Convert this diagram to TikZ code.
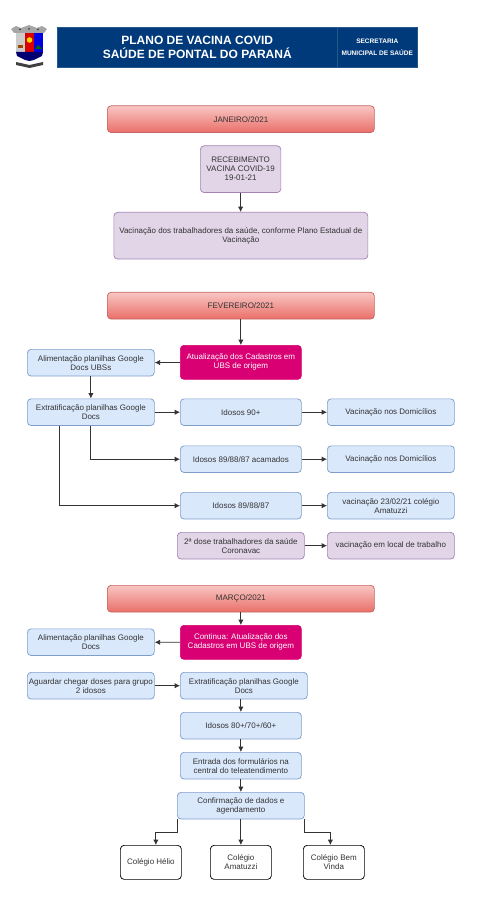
\documentclass[tikz,border=0pt]{standalone}
\usepackage{fontspec}
\setmainfont{Liberation Sans}
\usetikzlibrary{arrows.meta,calc}
\definecolor{bluefill}{HTML}{DAE8FC}
\definecolor{blueline}{HTML}{7F9FCB}
\definecolor{purplefill}{HTML}{E1D5E7}
\definecolor{purpleline}{HTML}{A583B6}
\definecolor{pinkfill}{HTML}{D80073}
\definecolor{headblue}{HTML}{003A7A}
\definecolor{monthtop}{HTML}{F8C6C3}
\definecolor{monthbot}{HTML}{EA6F69}
\definecolor{monthline}{HTML}{C46460}
\definecolor{txt}{HTML}{333333}
\tikzset{
 every node/.style={font=\fontsize{6}{6.75}\selectfont,text=txt,align=center,inner sep=0pt},
 basebox/.style={rounded corners=2.8pt,minimum width=#1*0.75pt,line width=0.55pt},
 bluebox/.style={basebox=#1,draw=blueline,fill=bluefill,minimum height=20pt},
 purplebox/.style={basebox=#1,draw=purpleline,fill=purplefill},
 pinkbox/.style={basebox=121,draw=pinkfill,fill=pinkfill,text=white,minimum height=25.5pt},
 monthbox/.style={basebox=267,draw=monthline,top color=monthtop,bottom color=monthbot,minimum height=20pt},
 whitebox/.style={basebox=61,draw=black,fill=white,minimum height=25.5pt},
 conn/.style={draw=black!80,line width=0.6pt,-{Latex[length=4pt,width=4pt]}},
}
\begin{document}
\begin{tikzpicture}[x=0.75pt,y=-0.75pt]
\useasboundingbox (0,0) rectangle (480,912);
% header
\node[draw=headblue!85!white,fill=headblue,minimum width=210pt,minimum height=30pt,anchor=north west,text=white,font=\fontsize{9}{10.5}\selectfont\bfseries] (title) at (57,27) {PLANO DE VACINA COVID\\SAÚDE DE PONTAL DO PARANÁ};
\node[draw=headblue!85!white,fill=headblue,minimum width=60pt,minimum height=30pt,anchor=north west,text=white,font=\fontsize{4.9}{9}\selectfont\bfseries] (sec) at (337,27) {SECRETARIA\\MUNICIPAL DE SAÚDE};
% coat of arms
\fill[gray!70] (11,29) -- (16,26) -- (21,28) -- (29,25) -- (37,28) -- (42,26) -- (47,29) -- (44,33) -- (14,33) -- cycle;
\fill[black!75] (20,29.5) circle (1) (29,29) circle (1) (38,29.5) circle (1);
\fill[gray!40] (16,33) rectangle (25,52);
\fill[red!85!black] (25,33) rectangle (34,52);
\fill[blue!90!black] (34,33) rectangle (43,52);
\fill[yellow!75!orange] (29.5,40) circle (2.8);
\fill[green!40!black] (35,49) -- (38,45) -- (42,49) -- cycle;
\fill[orange!60!black] (18,45) rectangle (23,48);
\fill[blue!45!black] (16,52) -- (43,52) -- (42,56) -- (34,60) -- (29.5,61) -- (25,60) -- (17,56) -- cycle;
\fill[gray!50!black] (16,62) -- (29.5,65) -- (43,62) -- (43,65) -- (29.5,68) -- (16,65) -- cycle;
% January
\node[monthbox,anchor=north west] (jan) at (107,105.5) {JANEIRO/2021};
\node[purplebox=80.5,minimum height=35pt,anchor=north west] (rec) at (200,145.5) {RECEBIMENTO\\VACINA COVID-19\\19-01-21};
\node[purplebox=254,minimum height=35pt,anchor=north west] (vac) at (113.5,212) {Vacinação dos trabalhadores da saúde, conforme Plano Estadual de\\Vacinação};
% February
\node[monthbox,anchor=north west] (fev) at (107,292) {FEVEREIRO/2021};
\node[pinkbox,anchor=north west] (atu) at (180,345) {Atualização dos Cadastros em\\UBS de origem};
\node[bluebox=127,anchor=north west] (ali) at (27,349) {Alimentação planilhas Google\\Docs UBSs};
\node[bluebox=127,anchor=north west] (ext) at (27,398.5) {Extratificação planilhas Google\\Docs};
\node[bluebox=121,anchor=north west] (i90) at (180,398.5) {Idosos 90+};
\node[bluebox=121,anchor=north west] (iac) at (180,445.5) {Idosos 89/88/87 acamados};
\node[bluebox=121,anchor=north west] (i87) at (180,492) {Idosos 89/88/87};
\node[purplebox=127,minimum height=20pt,anchor=north west] (dose) at (177,532) {2ª dose trabalhadores da saúde\\Coronavac};
\node[bluebox=127,anchor=north west] (d1) at (327,398.5) {Vacinação nos Domicílios};
\node[bluebox=127,anchor=north west] (d2) at (327,445.5) {Vacinação nos Domicílios};
\node[bluebox=127,anchor=north west] (d3) at (327,492) {vacinação 23/02/21 colégio\\Amatuzzi};
\node[purplebox=127,minimum height=20pt,anchor=north west] (d4) at (327,532) {vacinação em local de trabalho};
% March
\node[monthbox,anchor=north west] (mar) at (107,585) {MARÇO/2021};
\node[pinkbox,anchor=north west] (con) at (180,625) {Continua: Atualização dos\\Cadastros em UBS de origem};
\node[bluebox=127,anchor=north west] (ali2) at (27,628.5) {Alimentação planilhas Google\\Docs};
\node[bluebox=127,anchor=north west] (agu) at (27,672) {Aguardar chegar doses para grupo\\2 idosos};
\node[bluebox=127,anchor=north west] (ext2) at (180,672) {Extratificação planilhas Google\\Docs};
\node[bluebox=121,anchor=north west] (i80) at (180,712) {Idosos 80+/70+/60+};
\node[bluebox=121,anchor=north west] (ent) at (180,752) {Entrada dos formulários na\\central do teleatendimento};
\node[bluebox=127,anchor=north west] (cnf) at (177,792) {Confirmação de dados e\\agendamento};
\node[whitebox,anchor=north west] (hel) at (120,845) {Colégio Hélio};
\node[whitebox,anchor=north west] (ama) at (210,845) {Colégio\\Amatuzzi};
\node[whitebox,anchor=north west] (bem) at (303,845) {Colégio Bem\\Vinda};
% connectors
\draw[conn] (rec) -- (rec|-vac.north);
\draw[conn] (fev.south-|atu) -- (atu);
\draw[conn] (atu) -- (ali);
\draw[conn] (ali) -- (ext);
\draw[conn] (ext.east|-i90) -- (i90);
\draw[conn] (ext.south) |- (iac);
\draw[conn] ($(ext.south west)!0.25!(ext.south east)$) |- (i87);
\draw[conn] (i90) -- (d1);
\draw[conn] (iac) -- (d2);
\draw[conn] (i87) -- (d3);
\draw[conn] (dose) -- (d4);
\draw[conn] (mar.south-|con) -- (con);
\draw[conn] (con) -- (ali2);
\draw[conn] (agu) -- (ext2);
\draw[conn] (ext2.south-|i80) -- (i80);
\draw[conn] (i80) -- (ent);
\draw[conn] (ent.south-|cnf) -- (cnf);
\draw[conn] (cnf.south-|ama) -- (ama);
\draw[conn] (cnf.south west) -- ++(0,13) -| ($(hel.north)+(5,0)$);
\draw[conn] (cnf.south east) -- ++(0,13) -| ($(bem.north)+(-3.5,0)$);
\end{tikzpicture}
\end{document}
